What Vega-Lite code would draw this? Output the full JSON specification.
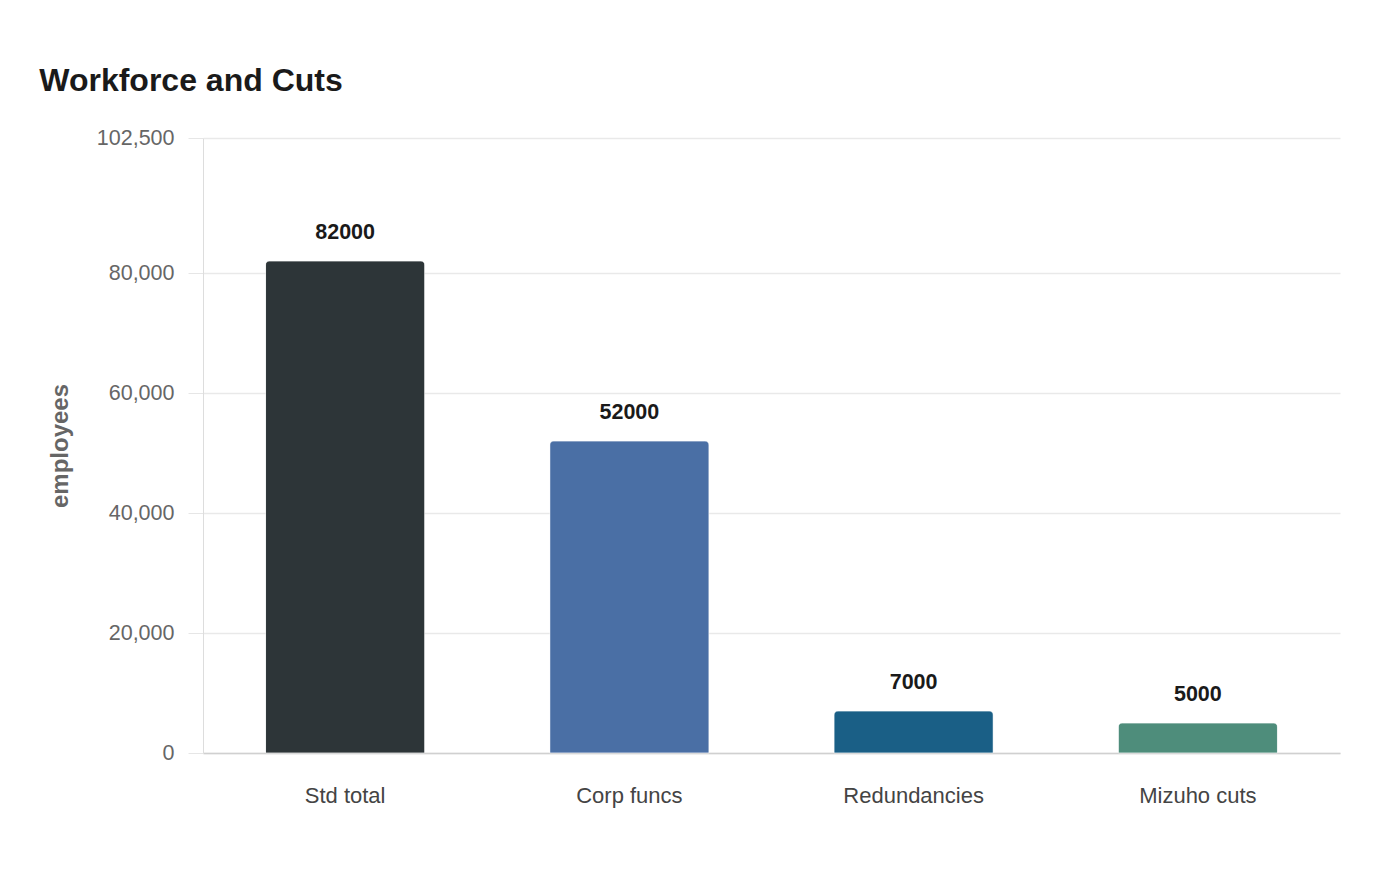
{
  "$schema": "https://vega.github.io/schema/vega-lite/v6.json",
  "width": 1137,
  "height": 615,
  "autosize": {"type": "none"},
  "padding": {"left": 203, "top": 138, "right": 60, "bottom": 127},
  "background": "#ffffff",
  "title": {
    "text": "Workforce and Cuts",
    "anchor": "start",
    "frame": "bounds",
    "font": "Liberation Sans",
    "fontSize": 32,
    "fontWeight": "bold",
    "color": "#1a1a1a",
    "offset": 29,
    "dx": -9
  },
  "config": {
    "view": {"stroke": null},
    "font": "Liberation Sans"
  },
  "data": {
    "values": [
      {"category": "Std total", "employees": 82000},
      {"category": "Corp funcs", "employees": 52000},
      {"category": "Redundancies", "employees": 7000},
      {"category": "Mizuho cuts", "employees": 5000}
    ]
  },
  "encoding": {
    "x": {
      "field": "category",
      "type": "nominal",
      "sort": null,
      "scale": {"paddingInner": 0.44, "paddingOuter": 0.22},
      "axis": {
        "title": null,
        "labelAngle": 0,
        "labelFont": "Liberation Sans",
        "labelFontSize": 22,
        "labelColor": "#444444",
        "labelPadding": 32,
        "ticks": false,
        "domainColor": "#d0d0d0",
        "domainWidth": 1.5,
        "grid": false
      }
    },
    "y": {
      "field": "employees",
      "type": "quantitative",
      "scale": {"domain": [0, 102500], "nice": false},
      "axis": {
        "title": "employees",
        "titleFont": "Liberation Sans",
        "titleFontSize": 24,
        "titleFontWeight": "bold",
        "titleColor": "#666666",
        "titlePadding": 24,
        "values": [0, 20000, 40000, 60000, 80000, 102500],
        "format": ",d",
        "labelFont": "Liberation Sans",
        "labelFontSize": 21.5,
        "labelColor": "#666666",
        "labelPadding": 14,
        "tickSize": 15,
        "tickColor": "#e6e6e6",
        "domainColor": "#dddddd",
        "gridColor": "#e9e9e9",
        "gridWidth": 1.3
      }
    }
  },
  "layer": [
    {
      "mark": {
        "type": "bar",
        "cornerRadiusTopLeft": 4,
        "cornerRadiusTopRight": 4,
        "stroke": "#ffffff",
        "strokeWidth": 1,
        "strokeOpacity": 0.4
      },
      "encoding": {
        "color": {
          "field": "category",
          "type": "nominal",
          "sort": null,
          "scale": {
            "domain": ["Std total", "Corp funcs", "Redundancies", "Mizuho cuts"],
            "range": ["#2d3538", "#4a6fa5", "#1a5f86", "#4e8d7b"]
          },
          "legend": null
        }
      }
    },
    {
      "mark": {
        "type": "text",
        "baseline": "alphabetic",
        "dy": -22,
        "font": "Liberation Sans",
        "fontSize": 21.5,
        "fontWeight": "bold",
        "color": "#1a1a1a"
      },
      "encoding": {
        "text": {"field": "employees", "type": "quantitative", "format": "d"}
      }
    }
  ]
}
